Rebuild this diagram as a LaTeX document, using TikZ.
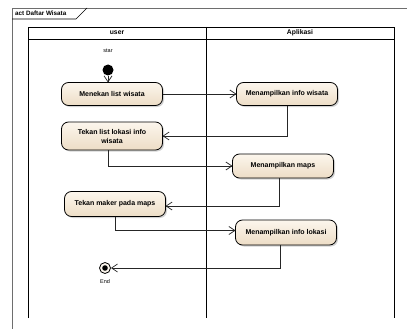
\documentclass[tikz,border=0pt]{standalone}
\usepackage{fontspec}
\setmainfont{Liberation Sans}
\usetikzlibrary{positioning,arrows.meta,shadows}

\definecolor{actlight}{RGB}{252,246,237}
\definecolor{actdark}{RGB}{237,221,198}
\definecolor{framegray}{RGB}{110,110,110}

\begin{document}
\begin{tikzpicture}
    [x=1pt, y=-1pt,
     act/.style={rectangle, rounded corners=7pt, draw=black, line width=0.8pt,
       top color=actlight, bottom color=actdark, minimum width=101pt,
       minimum height=23pt, outer sep=0pt, align=center,
       font=\fontsize{7}{9}\selectfont\bfseries,
       drop shadow={shadow xshift=1.5pt, shadow yshift=-1.5pt, fill=black!35}},
     lane/.style={draw=black, line width=0.8pt},
     lanehead/.style={font=\fontsize{6.8}{8}\selectfont\bfseries},
     flow/.style={draw=black!85, line width=0.7pt, -{Straight Barb[length=6pt,width=8pt]}},
     small/.style={font=\fontsize{5.5}{6}\selectfont}]

    \useasboundingbox (0,0) rectangle (407,329);

    % frame of the activity
    \draw[framegray, line width=0.8pt] (12,329) -- (12,8) -- (407,8);
    \draw[black, line width=0.6pt] (12,19) -- (76,19) -- (87,8);
    \node[anchor=west, inner sep=0pt, font=\fontsize{6.3}{7}\selectfont\bfseries] (acttitle) at (15,13.5) {act Daftar Wisata};

    % swimlanes
    \draw[lane] (28,318) -- (28,27) -- (394,27) -- (394,318);
    \draw[lane] (206,27) -- (206,318);
    \draw[lane] (28,39) -- (394,39);
    \node[lanehead] (userhead) at (117,33) {user};
    \node[lanehead] (apphead) at (300,33) {Aplikasi};

    % start and end
    \node[circle, fill=black, minimum size=11pt, inner sep=0pt,
      label={[small, label distance=8pt]above:star}] (start) at (108,70) {};
    \node[circle, draw=black, line width=0.8pt, fill=actlight, minimum size=11pt, inner sep=0pt,
      path picture={\fill[black] (path picture bounding box.center) circle (2.8pt);},
      label={[small, label distance=2pt]below:End}] (end) at (105,268) {};

    % actions
    \node[act] (menekan) at (112,94) {Menekan list wisata};
    \node[act] (infowisata) [right=74pt of menekan] {Menampilkan info wisata};
    \node[act, minimum height=28pt] (tekanlist) [below=16.5pt of menekan] {Tekan list lokasi info\\wisata};
    \node[act, minimum height=24pt] (maps) at (283,166) {Menampilkan maps};
    \node[act, minimum height=25pt] (maker) at (115,204) {Tekan maker pada maps};
    \node[act, minimum height=25pt] (infolokasi) at (286,232.5) {Menampilkan info lokasi};

    % control flow
    \draw[flow] (start) -- (start |- menekan.north);
    \draw[flow] (menekan) -- (infowisata);
    \draw[flow] (infowisata.south) |- (tekanlist.east);
    \draw[flow] ([xshift=-4pt]tekanlist.south) |- (maps.west);
    \draw[flow] ([xshift=-4pt]maps.south) |- ([yshift=-2pt]maker.east);
    \draw[flow] (maker.south) |- ([yshift=2pt]infolokasi.west);
    \draw[flow] ([xshift=-6pt]infolokasi.south) |- (end.east);
\end{tikzpicture}
\end{document}
